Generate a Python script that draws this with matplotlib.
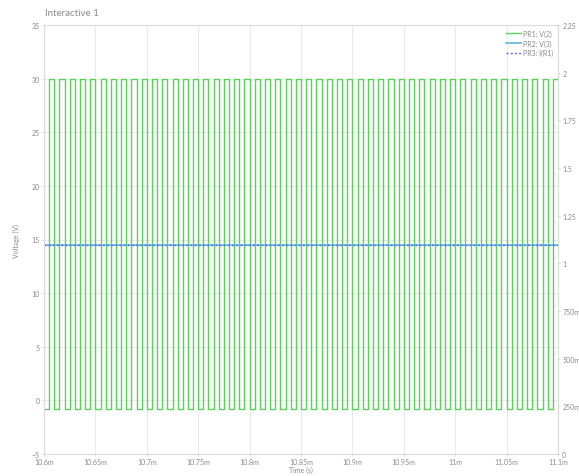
import numpy as np
import matplotlib.pyplot as plt
from matplotlib.ticker import FixedLocator

plt.rcParams['font.family'] = ['Lato', 'DejaVu Sans']

# Probe values
t_start = 10.6e-3          # s
t_stop = 11.1e-3           # s
pulse_period = 10e-6       # s, PR1 square wave
pulse_high = 30.0          # V
pulse_low = -0.8           # V
v3_level = 14.5            # V, PR2: V(3)
ir1_level = 1.097          # A, PR3: I(R1)

x_ticks = [10.6e-3, 10.65e-3, 10.7e-3, 10.75e-3, 10.8e-3, 10.85e-3,
           10.9e-3, 10.95e-3, 11.0e-3, 11.05e-3, 11.1e-3]
x_labels = ['10.6m', '10.65m', '10.7m', '10.75m', '10.8m', '10.85m',
            '10.9m', '10.95m', '11m', '11.05m', '11.1m']
left_ticks = [-5, 0, 5, 10, 15, 20, 25, 30, 35]
right_ticks = [0, 0.25, 0.5, 0.75, 1, 1.25, 1.5, 1.75, 2, 2.25]
right_labels = ['0', '250m', '500m', '750m', '1', '1.25', '1.5', '1.75', '2', '2.25']

# square wave edges: low half then high half in every period
n_periods = int(round((t_stop - t_start) / pulse_period))
edges = t_start + np.arange(2 * n_periods + 1) * pulse_period / 2
levels = np.tile([pulse_low, pulse_high], n_periods)
t_sq = np.repeat(edges, 2)[1:-1]
v_sq = np.repeat(levels, 2)

txt = '#8a8a8a'
grid_c = '#ebebeb'

fig = plt.figure(figsize=(5.79, 4.77), dpi=100)
ax = fig.add_axes([44 / 579, 22 / 477, 514 / 579, 429 / 477])
ax2 = ax.twinx()

ax2.plot([t_start, t_stop], [ir1_level, ir1_level], color='#5a6cf0', lw=1.0,
         ls=(0, (1.5, 1.5)), label='PR3: I(R1)')
ax.plot(t_sq, v_sq, color='#5ad25a', lw=1.0, label='PR1: V(2)')
ax.plot([t_start, t_stop], [v3_level, v3_level], color='#5cb8de', lw=1.2,
        label='PR2: V(3)')

ax.set_xlim(t_start, t_stop)
ax.set_ylim(-5, 35)
ax2.set_ylim(0, 2.25)

ax.xaxis.set_major_locator(FixedLocator(x_ticks))
ax.set_xticklabels(x_labels)
ax.yaxis.set_major_locator(FixedLocator(left_ticks))
ax2.yaxis.set_major_locator(FixedLocator(right_ticks))
ax2.set_yticklabels(right_labels)

ax.grid(True, color=grid_c, lw=0.8)
ax.set_axisbelow(True)
for a in (ax, ax2):
    a.tick_params(labelsize=5, colors=txt, length=1.5, width=0.6, pad=1.5)
    a.tick_params(axis='both', which='both', color='#d0d0d0')
    for s in a.spines.values():
        s.set_color('#dcdcdc')
        s.set_linewidth(0.8)
ax.spines['top'].set_color(grid_c)

ax.set_xlabel('Time (s)', fontsize=5, color=txt, labelpad=0.5)
ax.set_ylabel('Voltage (V)', fontsize=5, color=txt, labelpad=8)
fig.text(45 / 579, 1 - 14 / 477, 'Interactive 1', fontsize=7, color='#8c8c8c',
         va='center', ha='left')

h1, l1 = ax.get_legend_handles_labels()
h2, l2 = ax2.get_legend_handles_labels()
leg = ax2.legend(h1 + h2, l1 + l2, loc='upper right', fontsize=5, frameon=False,
                 handlelength=2.2, handletextpad=0.3, labelspacing=0.35,
                 borderaxespad=0.3, labelcolor=txt)

fig.savefig('out.png', dpi=100)
